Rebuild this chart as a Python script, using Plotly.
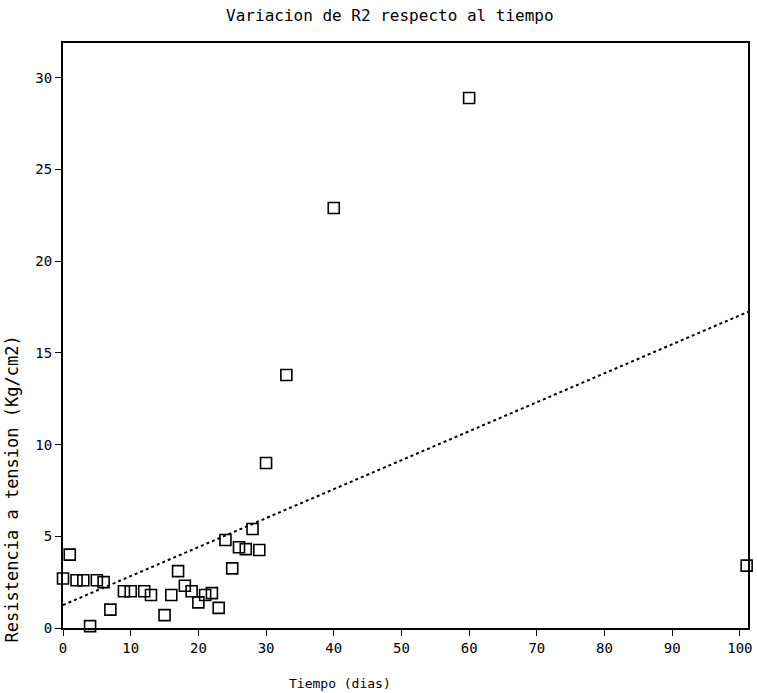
import plotly.graph_objects as go

# Data
dias = [0, 1, 2, 3, 4, 5, 6, 7, 9, 10, 12, 13, 15, 16, 17, 18, 19, 20, 21, 22, 23,
        24, 25, 26, 27, 28, 29, 30, 33, 40, 60, 101]
r2 = [2.7, 4.0, 2.6, 2.6, 0.1, 2.6, 2.5, 1.0, 2.0, 2.0, 2.0, 1.8, 0.7, 1.8, 3.1, 2.3,
      2.0, 1.4, 1.8, 1.9, 1.1, 4.8, 3.25, 4.4, 4.3, 5.4, 4.25, 9.0, 13.8, 22.9, 28.9, 3.4]

# Fitted line
fit_intercept = 1.25
fit_slope = 0.158
fit_x = [0, 101.2]

y_ticks = [0, 5, 10, 15, 20, 25, 30]
x_ticks = [0, 10, 20, 30, 40, 50, 60, 70, 80, 90, 100]

FONT = "DejaVu Sans Mono"

fig = go.Figure()
fig.add_trace(go.Scatter(
    x=fit_x, y=[fit_intercept + fit_slope * x for x in fit_x],
    mode="lines", line=dict(color="black", width=2, dash="dot"),
    hoverinfo="skip", showlegend=False))
fig.add_trace(go.Scatter(
    x=dias, y=r2, mode="markers",
    marker=dict(symbol="square-open", size=11, color="black", line=dict(width=1.6)),
    cliponaxis=False, showlegend=False))

fig.update_layout(
    width=757, height=693,
    paper_bgcolor="white", plot_bgcolor="white",
    margin=dict(l=63, r=9, t=43, b=65, autoexpand=False),
    font=dict(family=FONT, size=14, color="black"),
    title=dict(text="Variacion de R2 respecto al tiempo", x=0.515, xanchor="center",
               y=0.978, yanchor="middle", font=dict(family=FONT, size=16)),
    showlegend=False,
    annotations=[
        dict(text="Tiempo (dias)", xref="paper", yref="paper", x=0.404, y=-0.095,
             xanchor="center", yanchor="middle", showarrow=False,
             font=dict(family=FONT, size=13)),
        dict(text="Resistencia a tension (Kg/cm2)", xref="paper", yref="paper",
             x=-0.075, y=0.238, xanchor="center", yanchor="middle", textangle=-90,
             showarrow=False, font=dict(family=FONT, size=17)),
    ],
)
fig.update_xaxes(range=[0, 101.2], tickvals=x_ticks, ticks="outside", ticklen=6,
                 tickcolor="black", showgrid=False, zeroline=False, showline=True,
                 linecolor="black", linewidth=2, mirror=True, automargin=False)
fig.update_yaxes(range=[0, 31.9], tickvals=y_ticks, ticks="outside", ticklen=6,
                 tickcolor="black", showgrid=False, zeroline=False, showline=True,
                 linecolor="black", linewidth=2, mirror=True, automargin=False)

fig.write_html("out.html", config={"displayModeBar": False},
               post_script="document.body.style.margin='0';")
